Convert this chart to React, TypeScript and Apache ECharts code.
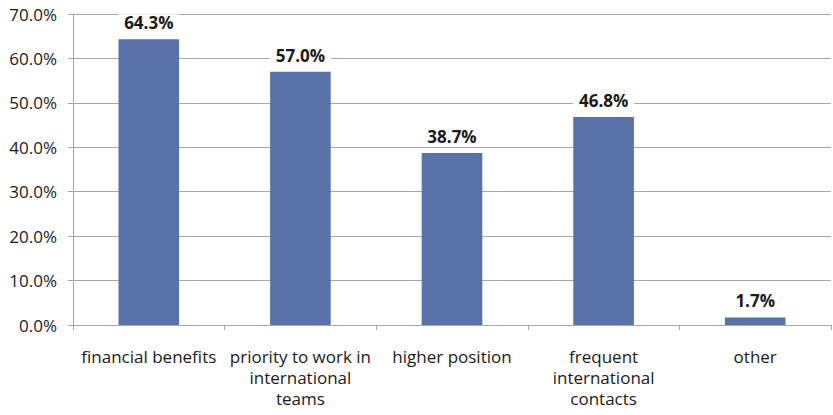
import React, { useEffect, useRef } from "react";
import * as echarts from "echarts";

const categories = [
  "financial benefits",
  "priority to work in\ninternational\nteams",
  "higher position",
  "frequent\ninternational\ncontacts",
  "other",
];
const values = [64.3, 57.0, 38.7, 46.8, 1.7];

export default function App() {
  const ref = useRef<HTMLDivElement>(null);
  useEffect(() => {
    if (!ref.current) return;
    const chart = echarts.init(ref.current, null, { renderer: "svg" });
    const font = "'Open Sans', 'Liberation Sans', sans-serif";
    chart.setOption({
      animation: false,
      backgroundColor: "#ffffff",
      grid: { left: 73, right: 2, top: 14, bottom: 90, containLabel: false },
      xAxis: {
        type: "category",
        data: categories,
        axisLine: { show: true, lineStyle: { color: "#a6a6a6", width: 1 } },
        axisTick: { show: true, length: 5, lineStyle: { color: "#a6a6a6" } },
        axisLabel: {
          color: "#1a1a1a",
          fontFamily: font,
          fontSize: 17,
          lineHeight: 21,
          margin: 21,
          interval: 0,
        },
      },
      yAxis: {
        type: "value",
        min: 0,
        max: 70,
        interval: 10,
        axisLine: { show: true, lineStyle: { color: "#a6a6a6", width: 1 } },
        axisTick: { show: true, length: 5, lineStyle: { color: "#a6a6a6" } },
        splitLine: { show: true, lineStyle: { color: "#a6a6a6", width: 1 } },
        axisLabel: {
          color: "#1a1a1a",
          fontFamily: font,
          fontSize: 17,
          margin: 16,
          formatter: (v: number) => v.toFixed(1) + "%",
        },
      },
      series: [
        {
          type: "bar",
          data: values,
          barWidth: "40%",
          itemStyle: { color: "#5873a8" },
          label: {
            show: true,
            position: "top",
            distance: 8,
            color: "#1a1a1a",
            fontFamily: font,
            fontSize: 17,
            fontWeight: "bold",
            backgroundColor: "#ffffff",
            padding: [0, 6],
            formatter: (p: any) => p.value.toFixed(1) + "%",
          },
        },
      ],
    });
    return () => chart.dispose();
  }, []);
  return (
    <div
      ref={ref}
      style={{ position: "fixed", left: 0, top: 0, width: 833, height: 415 }}
    />
  );
}
